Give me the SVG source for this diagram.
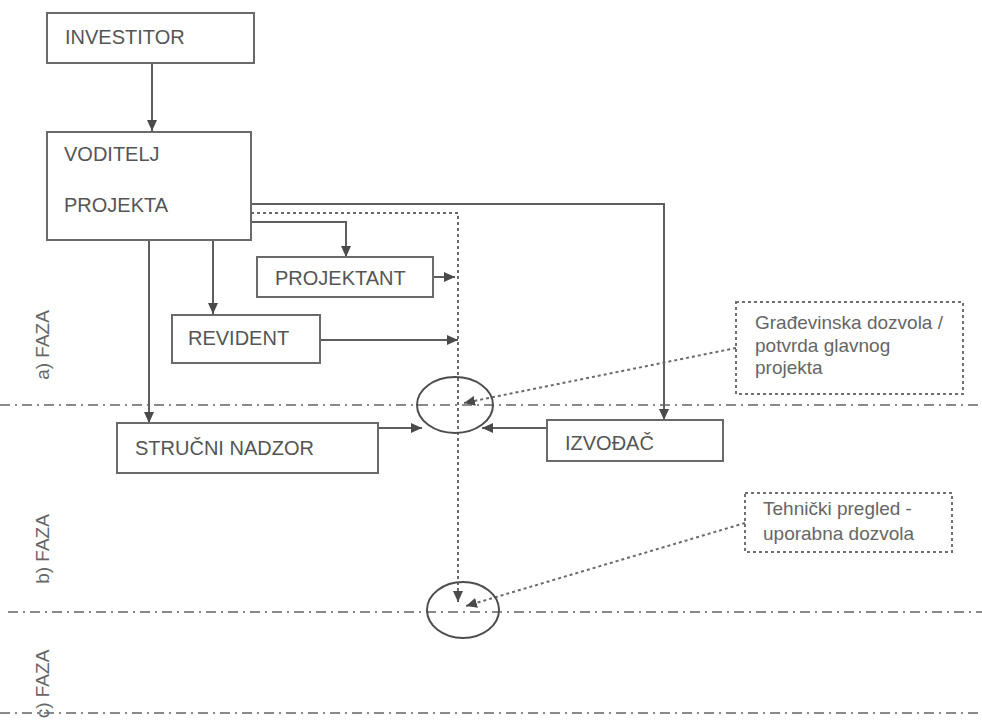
<svg xmlns="http://www.w3.org/2000/svg" width="982" height="724" viewBox="0 0 982 724">
  <style>
    .box { fill: #ffffff; stroke: #6a6a6a; stroke-width: 2; }
    .note { fill: #ffffff; stroke: #707070; stroke-width: 2; stroke-dasharray: 3 3; }
    .lbl { font-family: "Liberation Sans", Arial, sans-serif; font-size: 20px; fill: #555555; }
    .ntxt { font-family: "Liberation Sans", Arial, sans-serif; font-size: 19px; fill: #666666; }
    .faza { font-family: "Liberation Sans", Arial, sans-serif; font-size: 19px; fill: #666666; }
    .solid { fill: none; stroke: #5e5e5e; stroke-width: 2; }
    .dotted { fill: none; stroke: #6a6a6a; stroke-width: 2; stroke-dasharray: 3 3; }
    .phase { fill: none; stroke: #8a8a8a; stroke-width: 2; stroke-dasharray: 10 5 2 5; }
    .ring { fill: none; stroke: #4e4e4e; stroke-width: 2; }
  </style>
  <defs>
    <marker id="arrow" markerUnits="userSpaceOnUse" markerWidth="12" markerHeight="10" refX="11" refY="5" orient="auto">
      <path d="M0,0 L11,5 L0,10 Z" fill="#4a4a4a"/>
    </marker>
  </defs>

  <rect width="982" height="724" fill="#ffffff"/>

  <!-- phase separators -->
  <g id="phases">
    <line class="phase" x1="0" y1="405" x2="982" y2="405"/>
    <line class="phase" x1="8" y1="612" x2="982" y2="612"/>
    <line class="phase" x1="0" y1="713" x2="982" y2="713"/>
    <text class="faza" transform="translate(49,345) rotate(-90)" text-anchor="middle">a) FAZA</text>
    <text class="faza" transform="translate(49,549) rotate(-90)" text-anchor="middle">b) FAZA</text>
    <text class="faza" transform="translate(49,684) rotate(-90)" text-anchor="middle">c) FAZA</text>
  </g>

  <!-- connectors -->
  <g id="connectors">
    <path class="solid" d="M152,63 V131" marker-end="url(#arrow)"/>
    <path class="solid" d="M251,204 H664 V420" marker-end="url(#arrow)"/>
    <path class="solid" d="M251,222 H346 V257" marker-end="url(#arrow)"/>
    <path class="solid" d="M213,240 V314" marker-end="url(#arrow)"/>
    <path class="solid" d="M149,240 V423" marker-end="url(#arrow)"/>
    <path class="solid" d="M434,277 H455" marker-end="url(#arrow)"/>
    <path class="solid" d="M320,340 H458" marker-end="url(#arrow)"/>
    <path class="solid" d="M378,428 H422" marker-end="url(#arrow)"/>
    <path class="solid" d="M547,428 H482" marker-end="url(#arrow)"/>
    <path class="dotted" d="M251,213 H458 V602" marker-end="url(#arrow)"/>
    <path class="dotted" d="M736,348 L464,403" marker-end="url(#arrow)"/>
    <path class="dotted" d="M745,523 L466,606" marker-end="url(#arrow)"/>
  </g>

  <!-- milestone rings -->
  <g id="milestone-permit">
    <ellipse class="ring" cx="455" cy="405" rx="38" ry="28"/>
  </g>
  <g id="milestone-inspection">
    <ellipse class="ring" cx="463" cy="610" rx="36" ry="28"/>
  </g>

  <!-- nodes -->
  <g id="investitor">
    <rect class="box" x="47" y="13" width="207" height="50"/>
    <text class="lbl" x="65" y="44">INVESTITOR</text>
  </g>
  <g id="voditelj-projekta">
    <rect class="box" x="47" y="132" width="204" height="108"/>
    <text class="lbl" x="64" y="161">VODITELJ</text>
    <text class="lbl" x="64" y="212">PROJEKTA</text>
  </g>
  <g id="projektant">
    <rect class="box" x="257" y="257" width="176" height="40"/>
    <text class="lbl" x="275" y="285">PROJEKTANT</text>
  </g>
  <g id="revident">
    <rect class="box" x="172" y="315" width="148" height="48"/>
    <text class="lbl" x="188" y="345">REVIDENT</text>
  </g>
  <g id="strucni-nadzor">
    <rect class="box" x="117" y="423" width="261" height="50"/>
    <text class="lbl" x="135" y="455">STRUČNI NADZOR</text>
  </g>
  <g id="izvodac">
    <rect class="box" x="547" y="420" width="176" height="41"/>
    <text class="lbl" x="565" y="450">IZVOĐAČ</text>
  </g>
  <g id="note-gradjevinska">
    <rect class="note" x="736" y="302" width="227" height="92"/>
    <text class="ntxt" x="755" y="329">Građevinska dozvola /</text>
    <text class="ntxt" x="755" y="352">potvrda glavnog</text>
    <text class="ntxt" x="755" y="374">projekta</text>
  </g>
  <g id="note-tehnicki">
    <rect class="note" x="745" y="493" width="207" height="59"/>
    <text class="ntxt" x="763" y="515">Tehnički pregled -</text>
    <text class="ntxt" x="763" y="540">uporabna dozvola</text>
  </g>
</svg>
